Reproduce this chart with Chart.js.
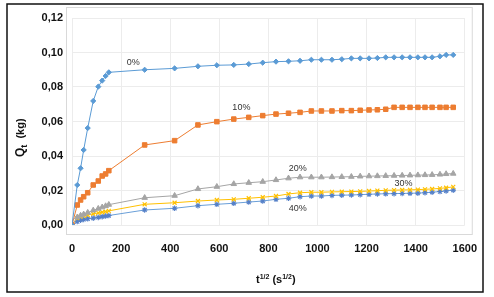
<!DOCTYPE html>
<html lang="en">
<head>
    <meta charset="UTF-8">
    <title>Qt vs t^1/2</title>
    <style>
        body { margin: 0; background: #fff; }
        canvas { display: block; }
    </style>
    <script src="https://cdn.jsdelivr.net/npm/chart.js"></script>
</head>
<body>
    <canvas id="qtChart" width="494" height="297"></canvas>

    <script>
        // t^1/2 values (s^1/2), shared by all series
        const tRoot = [0, 21.5, 35, 47.5, 64, 86.5, 107, 123, 137, 150,
            296, 418, 513, 590, 659, 720, 777, 831, 882, 929, 975, 1016,
            1059, 1099, 1138, 1174, 1210, 1244, 1278, 1312, 1345, 1377,
            1409, 1438, 1467, 1499, 1524, 1553];

        // Qt (kg) per series
        const q0 = [0, 0.0232, 0.0329, 0.0435, 0.0562, 0.0719, 0.0802, 0.0837, 0.0864, 0.0885,
            0.0900, 0.0908, 0.0920, 0.0926, 0.0928, 0.0933, 0.0941, 0.0947, 0.0949, 0.0952, 0.0958, 0.0958,
            0.0958, 0.0961, 0.0966, 0.0966, 0.0966, 0.0968, 0.0972, 0.0972, 0.0972, 0.0972,
            0.0972, 0.0972, 0.0972, 0.0978, 0.0986, 0.0986];
        const q10 = [0, 0.0116, 0.0145, 0.0164, 0.0187, 0.0232, 0.0255, 0.0284, 0.0296, 0.0315,
            0.0464, 0.0489, 0.0580, 0.0599, 0.0614, 0.0624, 0.0634, 0.0643, 0.0648, 0.0653, 0.0661, 0.0661,
            0.0661, 0.0663, 0.0663, 0.0665, 0.0667, 0.0668, 0.0671, 0.0682, 0.0682, 0.0682,
            0.0682, 0.0682, 0.0682, 0.0682, 0.0682, 0.0682];
        const q20 = [0, 0.0045, 0.0055, 0.0062, 0.0072, 0.0085, 0.0095, 0.0103, 0.0110, 0.0118,
            0.0158, 0.0170, 0.0209, 0.0222, 0.0238, 0.0245, 0.0251, 0.0261, 0.0271, 0.0277, 0.0277, 0.0277,
            0.0278, 0.0279, 0.0280, 0.0282, 0.0283, 0.0284, 0.0285, 0.0286, 0.0287, 0.0288,
            0.0289, 0.0290, 0.0291, 0.0293, 0.0296, 0.0298];
        const q30 = [0, 0.0040, 0.0048, 0.0053, 0.0058, 0.0065, 0.0070, 0.0074, 0.0078, 0.0082,
            0.0120, 0.0129, 0.0139, 0.0145, 0.0149, 0.0155, 0.0161, 0.0168, 0.0180, 0.0187, 0.0190, 0.0190,
            0.0192, 0.0193, 0.0194, 0.0195, 0.0197, 0.0199, 0.0201, 0.0202, 0.0203, 0.0204,
            0.0205, 0.0207, 0.0209, 0.0212, 0.0216, 0.0221];
        const q40 = [0, 0.0020, 0.0028, 0.0032, 0.0036, 0.0040, 0.0044, 0.0048, 0.0052, 0.0055,
            0.0087, 0.0097, 0.0112, 0.0120, 0.0126, 0.0133, 0.0139, 0.0149, 0.0155, 0.0164, 0.0168, 0.0168,
            0.0172, 0.0173, 0.0174, 0.0176, 0.0178, 0.0180, 0.0181, 0.0182, 0.0183, 0.0184,
            0.0185, 0.0187, 0.0190, 0.0194, 0.0198, 0.0202];

        const seriesNames = ['0%', '10%', '20%', '30%', '40%'];
        // where each series name is written, in data units
        const labelX = [250, 690, 920, 1350, 920];
        const labelY = [0.094, 0.068, 0.033, 0.024, 0.0097];

        const xTicks = [0, 200, 400, 600, 800, 1000, 1200, 1400, 1600];
        const yTicks = [0, 0.02, 0.04, 0.06, 0.08, 0.10, 0.12];

        const toPoints = arr => arr.map((v, i) => ({ x: tRoot[i], y: v }));

        const styles = [
            { color: '#5B9BD5', marker: '#5B9BD5', shape: 'rectRot', r: 2.6, bw: 1 },
            { color: '#ED7D31', marker: '#ED7D31', shape: 'rect', r: 3.2, bw: 1 },
            { color: '#A5A5A5', marker: '#A5A5A5', shape: 'triangle', r: 3.2, bw: 1 },
            { color: '#FFC000', marker: '#FFC000', shape: 'crossRot', r: 2.8, bw: 1.2 },
            { color: '#6A9FD8', marker: '#5580C8', shape: 'star', r: 2.8, bw: 1.1 }
        ];
        const allSeries = [q0, q10, q20, q30, q40];

        const datasets = allSeries.map((arr, i) => ({
            label: seriesNames[i],
            data: toPoints(arr),
            borderColor: styles[i].color,
            backgroundColor: styles[i].marker,
            pointBackgroundColor: styles[i].marker,
            pointBorderColor: styles[i].marker,
            pointStyle: styles[i].shape,
            pointRadius: styles[i].r,
            pointBorderWidth: styles[i].bw,
            borderWidth: 1,
            tension: 0,
            fill: false
        }));

        // frame, series names and axis titles
        const decor = {
            id: 'decor',
            beforeDraw(chart) {
                const c = chart.ctx;
                c.save();
                c.fillStyle = '#fff';
                c.fillRect(0, 0, chart.width, chart.height);
                c.restore();
            },
            afterDraw(chart) {
                const c = chart.ctx;
                const xs = chart.scales.x, ys = chart.scales.y;
                const a = chart.chartArea;
                c.save();
                // plot area border
                c.strokeStyle = '#d9d9d9';
                c.lineWidth = 1;
                c.strokeRect(66.5, 7.5, a.right + 7 - 66, 234 - 7);
                // outer black frame
                c.strokeStyle = '#111';
                c.lineWidth = 1.5;
                c.strokeRect(7, 4, 476, 288);

                // series names
                c.fillStyle = '#333';
                c.font = '9px "Liberation Sans", Arial, sans-serif';
                c.textAlign = 'center';
                c.textBaseline = 'middle';
                seriesNames.forEach((n, i) => {
                    c.fillText(n, xs.getPixelForValue(labelX[i]), ys.getPixelForValue(labelY[i]));
                });

                // x title: t^1/2 (s^1/2)
                c.fillStyle = '#111';
                c.textAlign = 'left';
                c.textBaseline = 'alphabetic';
                let x = 256, y = 283;
                const big = 'bold 11px "Liberation Sans", Arial, sans-serif';
                const small = 'bold 7px "Liberation Sans", Arial, sans-serif';
                const parts = [['t', big, 0], ['1/2', small, -4], [' (s', big, 0], ['1/2', small, -4], [')', big, 0]];
                parts.forEach(p => {
                    c.font = p[1];
                    c.fillText(p[0], x, y + p[2]);
                    x += c.measureText(p[0]).width;
                });

                // y title: Q_t (kg), rotated
                c.translate(24, 133);
                c.rotate(-Math.PI / 2);
                x = -24; y = 0;
                const yparts = [['Q', 'bold 12px "Liberation Sans", Arial, sans-serif', 0],
                    ['t', 'bold 9px "Liberation Sans", Arial, sans-serif', 3],
                    ['  (kg)', 'bold 11px "Liberation Sans", Arial, sans-serif', 0]];
                yparts.forEach(p => {
                    c.font = p[1];
                    c.fillText(p[0], x, y + p[2]);
                    x += c.measureText(p[0]).width;
                });
                c.restore();
            }
        };

        const ctx = document.getElementById('qtChart').getContext('2d');
        const chart = new Chart(ctx, {
            type: 'line',
            data: { datasets: datasets },
            options: {
                responsive: false,
                animation: false,
                layout: { padding: { top: 18, right: 28, left: 0, bottom: 0 } },
                plugins: {
                    legend: { display: false },
                    tooltip: { enabled: false }
                },
                scales: {
                    x: {
                        type: 'linear',
                        min: xTicks[0],
                        max: xTicks[xTicks.length - 1],
                        afterBuildTicks: s => { s.ticks = xTicks.map(v => ({ value: v })); },
                        afterFit: s => { s.height = 72; },
                        grid: { color: '#ececec', drawTicks: false },
                        border: { display: false },
                        ticks: {
                            padding: 17,
                            color: '#111',
                            maxRotation: 0,
                            callback: v => String(v),
                            font: { family: '"Liberation Sans", Arial', size: 11, weight: 'bold' }
                        }
                    },
                    y: {
                        min: yTicks[0],
                        max: yTicks[yTicks.length - 1],
                        afterBuildTicks: s => { s.ticks = yTicks.map(v => ({ value: v })); },
                        afterFit: s => { s.width = 72; },
                        grid: { color: '#ececec', drawTicks: false },
                        border: { display: false },
                        ticks: {
                            padding: 9,
                            color: '#111',
                            callback: v => v.toFixed(2).replace('.', ','),
                            font: { family: '"Liberation Sans", Arial', size: 11, weight: 'bold' }
                        }
                    }
                }
            },
            plugins: [decor]
        });
    </script>
</body>
</html>
